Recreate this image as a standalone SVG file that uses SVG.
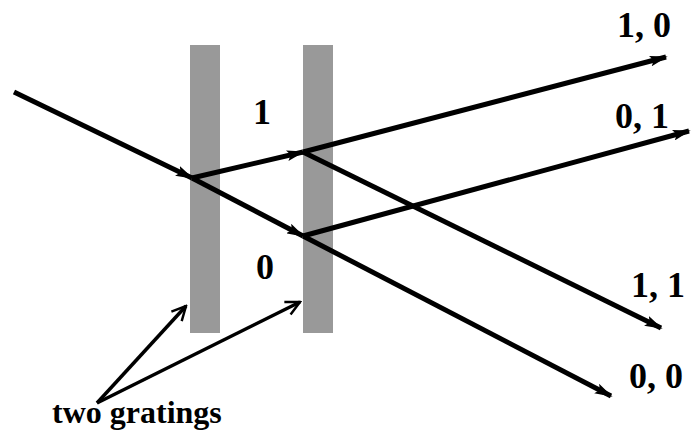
<svg xmlns="http://www.w3.org/2000/svg" width="691" height="435" viewBox="0 0 691 435">
<style>
.beam{stroke:#000;stroke-width:5;fill:none}
.ptr{stroke:#000;stroke-width:3.5;fill:none}
.grating{fill:#999}
text{font-family:"Liberation Serif","Times New Roman",serif;font-weight:bold;fill:#000}
.lbl{font-size:36px}
</style>
<defs>
<marker id="ah" viewBox="0 0 10 6" refX="9" refY="3" markerWidth="3.6" markerHeight="2.16" markerUnits="strokeWidth" orient="auto">
<path d="M0,0 L10,3 L0,6 L2,3 Z" fill="#000"/>
</marker>
<marker id="ao" viewBox="0 0 10 10" refX="9" refY="5" markerWidth="5" markerHeight="5" markerUnits="strokeWidth" orient="auto">
<path d="M1,1 L9,5 L1,9" fill="none" stroke="#000" stroke-width="1.4"/>
</marker>
</defs>
<g id="grating1"><rect class="grating" x="190" y="45" width="30" height="288"/></g>
<g id="grating2"><rect class="grating" x="303" y="45" width="30" height="288"/></g>
<g id="connectors">
<line class="beam" x1="14" y1="92" x2="192" y2="178" marker-end="url(#ah)"/>
<line class="beam" x1="192" y1="178" x2="303" y2="152" marker-end="url(#ah)"/>
<line class="beam" x1="303" y1="152" x2="666" y2="57" marker-end="url(#ah)"/>
<line class="beam" x1="192" y1="178" x2="303" y2="236" marker-end="url(#ah)"/>
<line class="beam" x1="303" y1="236" x2="611" y2="396" marker-end="url(#ah)"/>
<line class="beam" x1="303" y1="152" x2="661" y2="328" marker-end="url(#ah)"/>
<line class="beam" x1="303" y1="236" x2="689" y2="131" marker-end="url(#ah)"/>
<line class="ptr" x1="97" y1="403" x2="186" y2="306" marker-end="url(#ao)"/>
<line class="ptr" x1="97" y1="403" x2="300" y2="302" marker-end="url(#ao)"/>
</g>
<g id="labels">
<text class="lbl" x="617" y="37">1, 0</text>
<text class="lbl" x="615" y="128">0, 1</text>
<text class="lbl" x="631" y="297">1, 1</text>
<text class="lbl" x="629" y="388">0, 0</text>
<text class="lbl" x="253" y="124">1</text>
<text class="lbl" x="256" y="279">0</text>
<text x="52" y="423" font-size="32">two gratings</text>
</g>
</svg>
